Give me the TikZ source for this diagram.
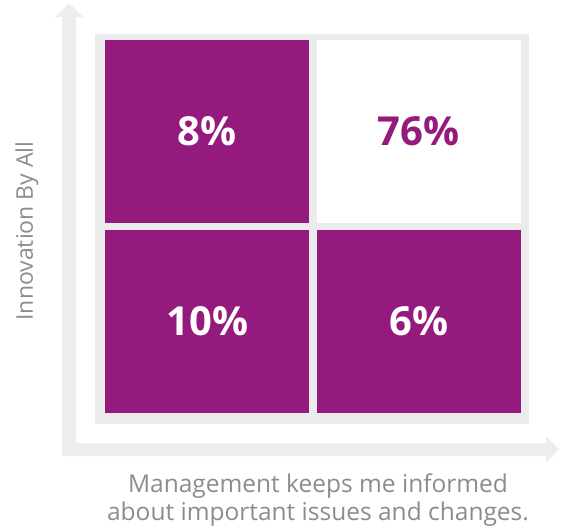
\documentclass[tikz,border=0pt]{standalone}
\usepackage{fontspec}
\setmainfont{Open Sans}
\usetikzlibrary{positioning}
\definecolor{plum}{HTML}{951A7D}
\definecolor{framegray}{HTML}{EBEBEB}
\definecolor{labelgray}{HTML}{8C8C8C}

\begin{document}
\begin{tikzpicture}[x=1pt,y=-1pt,
  cell/.style={minimum width=204pt,minimum height=183pt,inner sep=0pt,font=\fontsize{40}{42}\selectfont\bfseries},
  filled/.style={cell,fill=plum,text=white},
  blank/.style={cell,fill=white,text=plum},
  axislabel/.style={text=labelgray,font=\fontsize{24.5}{28}\selectfont,align=center}]
  \useasboundingbox (0,0) rectangle (564,530);
  % axes
  \fill[framegray!90] (62,456) -- (62,17) -- (55,17) -- (69,3) -- (83,17) -- (76,17) -- (76,443) -- (546,443) -- (546,436) -- (559,449.5) -- (546,463) -- (546,456) -- cycle;
  % frame
  \fill[framegray] (95,34) rectangle (529,424);
  \node[filled,anchor=north west] (tl) at (105,40) {8\%};
  \node[blank,right=7pt of tl] (tr) {76\%};
  \node[filled,below=6pt of tl] (bl) {10\%};
  \node[filled,below=6pt of tr] (br) {6\%};
  \node[axislabel,rotate=90,font=\fontsize{23}{28}\selectfont] (ylab) at (27,231) {Innovation By All};
  \node[axislabel] (xlab) at (318,500) {Management keeps me informed\\about important issues and changes.};
\end{tikzpicture}
\end{document}
